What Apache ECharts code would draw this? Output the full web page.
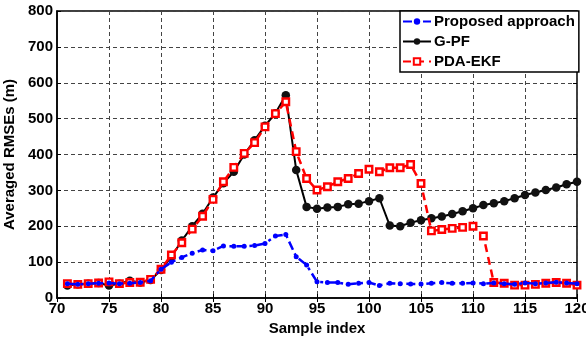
<!DOCTYPE html>
<html><head><meta charset="utf-8">
<script src="https://cdn.jsdelivr.net/npm/echarts@6/dist/echarts.min.js"></script>
<style>html,body{margin:0;padding:0;background:#fff}#c{width:586px;height:338px}</style>
</head><body><div id="c"></div>
<script>
const samples = [71,72,73,74,75,76,77,78,79,80,81,82,83,84,85,86,87,88,89,90,91,92,93,94,95,96,97,98,99,100,101,102,103,104,105,106,107,108,109,110,111,112,113,114,115,116,117,118,119,120];
const proposed = [40,38,40,41,42,40,41,43,48,80,100,113,125,134,132,145,144,144,146,152,173,177,115,92,45,43,43,38,41,43,35,41,40,39,39,41,43,41,41,42,40,42,40,38,42,40,42,44,42,40];
const gpf = [35,38,40,42,35,40,48,43,50,78,115,160,200,235,280,320,352,400,440,480,515,565,357,254,249,252,254,261,263,270,278,202,200,210,217,222,227,234,242,250,259,264,270,278,287,294,301,308,317,324];
const pdaekf = [40,38,40,42,45,40,43,44,52,80,120,154,192,228,275,324,364,403,433,477,514,547,408,333,301,310,324,333,347,359,352,363,363,372,319,187,191,194,197,200,173,43,41,36,36,38,41,43,41,36];
const xTicks = [70,75,80,85,90,95,100,105,110,115,120];
const yTicks = [0,100,200,300,400,500,600,700,800];
const names = ['Proposed approach','G-PF','PDA-EKF'];

const pair = arr => samples.map((s,i)=>[s,arr[i]]);
const font = 'Liberation Sans, Arial, sans-serif';
const lblStyle = {color:'#000', fontFamily:font, fontWeight:'bold', fontSize:15};
const gridLine = {show:true, lineStyle:{color:'#444', type:[4,3], width:1}};

const chart = echarts.init(document.getElementById('c'), null, {renderer:'canvas'});
chart.setOption({
  animation:false,
  backgroundColor:'#fff',
  grid:{left:57, right:9, top:11, bottom:40, show:true, borderColor:'#000', borderWidth:1.5, containLabel:false, outerBoundsMode:'none'},
  xAxis:[{
    type:'value', min:xTicks[0], max:xTicks[xTicks.length-1], interval:5,
    name:'Sample index', nameLocation:'middle', nameGap:22,
    nameTextStyle:{...lblStyle},
    axisLine:{show:true, lineStyle:{color:'#000', width:1.5}},
    axisTick:{show:true, inside:true, length:4, lineStyle:{color:'#000'}},
    axisLabel:{...lblStyle, margin:3},
    splitLine:gridLine
  },{
    type:'value', position:'top', min:xTicks[0], max:xTicks[xTicks.length-1], interval:5,
    axisLine:{show:false}, axisTick:{show:true, inside:true, length:4, lineStyle:{color:'#000'}},
    axisLabel:{show:false}, splitLine:{show:false}
  }],
  yAxis:[{
    type:'value', min:yTicks[0], max:yTicks[yTicks.length-1], interval:100,
    name:'Averaged RMSEs (m)', nameLocation:'middle', nameGap:34,
    nameTextStyle:{...lblStyle},
    axisLine:{show:true, lineStyle:{color:'#000', width:1.5}},
    axisTick:{show:true, inside:true, length:4, lineStyle:{color:'#000'}},
    axisLabel:{...lblStyle, margin:4},
    splitLine:gridLine
  },{
    type:'value', position:'right', min:yTicks[0], max:yTicks[yTicks.length-1], interval:100,
    axisLine:{show:false}, axisTick:{show:true, inside:true, length:4, lineStyle:{color:'#000'}},
    axisLabel:{show:false}, splitLine:{show:false}
  }],
  legend:{
    orient:'vertical', left:400, top:11,
    backgroundColor:'#fff', borderColor:'#000', borderWidth:1.5,
    padding:[3,4,3,2], itemGap:5, itemWidth:28, itemHeight:8,
    textStyle:{...lblStyle, lineHeight:13, padding:[0,0,0,-2]},
    data:names
  },
  series:[
    {name:names[0], type:'line', data:pair(proposed), z:5,
     symbol:'circle', symbolSize:5,
     lineStyle:{color:'#0000ff', width:2.5, type:[9,4,3,4]},
     itemStyle:{color:'#0000ff'}},
    {name:names[1], type:'line', data:pair(gpf), z:3,
     symbol:'circle', symbolSize:8.5,
     lineStyle:{color:'#000', width:2},
     itemStyle:{color:'#111', borderColor:'#000', borderWidth:0}},
    {name:names[2], type:'line', data:pair(pdaekf), z:4,
     symbol:'rect', symbolSize:6.5,
     lineStyle:{color:'#ff0000', width:2.5, type:[8,5]},
     itemStyle:{color:'#fff', borderColor:'#ff0000', borderWidth:2.4}}
  ]
});
</script></body></html>
